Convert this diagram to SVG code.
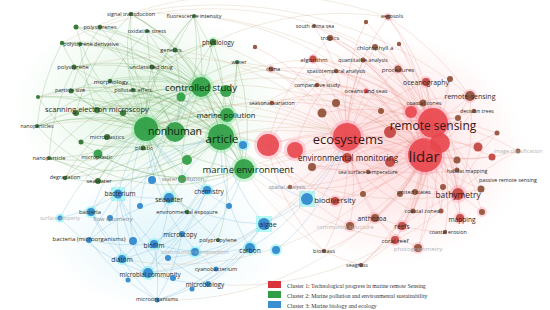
<svg xmlns="http://www.w3.org/2000/svg" width="550" height="310" viewBox="0 0 550 310">
<defs>
<radialGradient id="wr" cx="0.5" cy="0.5" r="0.5"><stop offset="0" stop-color="#ffb3b8" stop-opacity="0.5"/><stop offset="0.6" stop-color="#ffc4c8" stop-opacity="0.25"/><stop offset="1" stop-color="#ffc4c8" stop-opacity="0"/></radialGradient>
<radialGradient id="wg" cx="0.5" cy="0.5" r="0.5"><stop offset="0" stop-color="#9fe0a8" stop-opacity="0.35"/><stop offset="1" stop-color="#9fe0a8" stop-opacity="0"/></radialGradient>
<radialGradient id="wb" cx="0.5" cy="0.5" r="0.5"><stop offset="0" stop-color="#a8e2f0" stop-opacity="0.35"/><stop offset="1" stop-color="#a8e2f0" stop-opacity="0"/></radialGradient>
</defs>
<style>
text{font-family:"Open Sans","DejaVu Sans",sans-serif;text-anchor:middle;dominant-baseline:central;fill:#2a2a2a}
.f{fill:#b4b4b4}.m{fill:#858585}
.kr{fill:#3a1616}.kg{fill:#0f2a12}
.lg text{font-family:"Liberation Serif",serif;text-anchor:start;font-size:5.8px;fill:#333}
.gr{fill:#2f9e44;opacity:.92}.gd{fill:#3c7a3a}
.bl{fill:#3a8fd0}
.rb{fill:#e8464c;opacity:.9}.rm{fill:#c8504a}.rs{fill:#9a5b44}
.hg{fill:#7be38f;opacity:.35}.hb{fill:#62f0ee;opacity:.45}.hr{fill:#ff8fa3;opacity:.35}
.eg{fill:none;stroke:#5f9a4c;stroke-width:.6;opacity:.4}
.eb{fill:none;stroke:#6fb3d9;stroke-width:.6;opacity:.5}
.er{fill:none;stroke:#ea8f88;stroke-width:.6;opacity:.45}
.ex{fill:none;stroke:#c9a57a;stroke-width:.6;opacity:.4}
</style>
<rect width="550" height="310" fill="#ffffff"/>
<ellipse cx="390" cy="150" rx="135" ry="115" fill="url(#wr)"/>
<ellipse cx="150" cy="105" rx="140" ry="95" fill="url(#wg)"/>
<ellipse cx="165" cy="240" rx="120" ry="70" fill="url(#wb)"/>
<g id="connectors">
<path class="eg" d="M131 14A180 180 0 0 0 146 129M76 27A180 180 0 0 0 146 129M100 27A180 180 0 0 1 146 129M62 43A180 180 0 0 0 146 129M110 81A180 180 0 0 1 146 129M71 91A180 180 0 0 0 146 129M76 113A180 180 0 0 0 146 129M37 126A180 180 0 0 1 146 129M38 97A180 180 0 0 1 146 129M49 158A180 180 0 0 0 146 129M65 178A180 180 0 0 0 146 129M98 181A180 180 0 0 1 146 129M194 16A180 180 0 0 0 146 129M237 62A180 180 0 0 0 146 129M74 67A180 180 0 0 1 146 129M131 14A180 180 0 0 1 201 87M194 16A180 180 0 0 1 201 87M76 27A180 180 0 0 1 201 87M147 31A180 180 0 0 0 201 87M62 43A180 180 0 0 1 201 87M213 42A180 180 0 0 1 201 87M74 67A180 180 0 0 1 201 87M152 67A180 180 0 0 1 201 87M71 91A180 180 0 0 1 201 87M37 126A180 180 0 0 1 201 87M49 158A180 180 0 0 1 201 87M98 154A180 180 0 0 1 201 87M65 178A180 180 0 0 1 201 87M131 14A180 180 0 0 1 221 137M100 27A180 180 0 0 1 221 137M80 44A180 180 0 0 1 221 137M175 50A180 180 0 0 1 221 137M213 42A180 180 0 0 1 221 137M237 62A180 180 0 0 1 221 137M110 81A180 180 0 0 1 221 137M133 90A180 180 0 0 1 221 137M97 110A180 180 0 0 1 221 137M37 126A180 180 0 0 1 221 137M38 97A180 180 0 0 1 221 137M107 137A180 180 0 0 0 221 137M49 158A180 180 0 0 0 221 137M65 178A180 180 0 0 0 221 137M98 181A180 180 0 0 0 221 137M187 212A180 180 0 0 0 221 137M218 240A180 180 0 0 0 221 137M147 31A180 180 0 0 1 227 115M74 67A180 180 0 0 1 227 115M76 113A180 180 0 0 1 227 115M81 142A180 180 0 0 0 227 115M98 154A180 180 0 0 0 244 169M37 126A180 180 0 0 0 244 169M62 43A180 180 0 0 1 244 169M100 27A180 180 0 0 1 244 169M38 97A180 180 0 0 0 244 169M175 50A180 180 0 0 1 175 132M65 178A180 180 0 0 0 175 132M49 158A180 180 0 0 0 175 132M71 91A180 180 0 0 0 175 132M194 16A180 180 0 0 1 175 132M110 81A180 180 0 0 1 244 169M146 129A180 180 0 0 1 221 137M201 87A180 180 0 0 1 221 137M146 129A180 180 0 0 1 201 87M221 137A180 180 0 0 1 244 169M146 129A180 180 0 0 0 244 169M227 115A180 180 0 0 1 244 169M181 97A180 180 0 0 0 76 27M123 113A180 180 0 0 1 213 42M182 179A180 180 0 0 1 201 87M187 160A180 180 0 0 1 131 14M143 148A180 180 0 0 1 194 16M131 14A220 220 0 0 0 76 113M100 27A220 220 0 0 0 71 91M147 31A220 220 0 0 0 110 81M213 42A220 220 0 0 0 152 67M194 16A220 220 0 0 0 175 50M62 43A220 220 0 0 0 37 126M74 67A220 220 0 0 0 49 158M80 44A220 220 0 0 0 97 110M76 27A220 220 0 0 1 175 132M147 31A220 220 0 0 0 175 132M152 67A220 220 0 0 0 146 129M213 42A220 220 0 0 0 175 132M237 62A220 220 0 0 1 227 115M237 62A220 220 0 0 1 244 169M194 16A220 220 0 0 1 227 115M131 14A220 220 0 0 1 227 115M38 97A220 220 0 0 1 175 132M37 126A220 220 0 0 1 175 132M49 158A220 220 0 0 1 98 181M65 178A220 220 0 0 1 227 115M98 181A220 220 0 0 1 201 87M107 137A220 220 0 0 1 201 87M81 142A220 220 0 0 1 201 87M143 148A220 220 0 0 1 227 115M98 154A220 220 0 0 1 227 115M76 113A220 220 0 0 1 175 132M97 110A220 220 0 0 1 201 87M71 91A220 220 0 0 1 221 137M110 81A220 220 0 0 1 201 87M133 90A220 220 0 0 1 146 129M181 97A220 220 0 0 0 146 129M181 97A220 220 0 0 1 244 169M226 91A220 220 0 0 0 146 129M226 91A220 220 0 0 1 244 169M187 160A220 220 0 0 1 227 115M187 212A220 220 0 0 1 146 129M218 240A220 220 0 0 1 146 129M182 179A220 220 0 0 1 146 129M123 113A220 220 0 0 1 244 169M62 43A220 220 0 0 1 227 115"/>
<path class="eb" d="M157 300A200 200 0 0 1 122 259M157 300A200 200 0 0 0 154 244M157 300A200 200 0 0 0 216 269M157 300A200 200 0 0 0 182 234M157 300A200 200 0 0 1 89 240M157 300A200 200 0 0 0 250 248M148 273A200 200 0 0 1 91 212M148 273A200 200 0 0 1 118 194M148 273A200 200 0 0 0 169 198M148 273A200 200 0 0 0 207 190M148 273A200 200 0 0 0 264 224M148 273A200 200 0 0 1 60 218M122 259A200 200 0 0 1 118 194M122 259A200 200 0 0 0 169 198M122 259A200 200 0 0 0 182 234M122 259A200 200 0 0 1 91 212M154 244A200 200 0 0 1 118 194M154 244A200 200 0 0 0 207 190M154 244A200 200 0 0 0 250 248M154 244A200 200 0 0 1 89 240M154 244A200 200 0 0 0 221 137M118 194A200 200 0 0 1 221 137M118 194A200 200 0 0 1 146 129M118 194A200 200 0 0 0 169 198M118 194A200 200 0 0 1 60 218M91 212A200 200 0 0 1 146 129M91 212A200 200 0 0 1 221 137M89 240A200 200 0 0 1 118 194M89 240A200 200 0 0 1 169 198M169 198A200 200 0 0 1 221 137M169 198A200 200 0 0 1 146 129M169 198A200 200 0 0 0 264 224M207 190A200 200 0 0 1 146 129M207 190A200 200 0 0 0 244 169M264 224A200 200 0 0 0 347 137M264 224A200 200 0 0 1 221 137M264 224A200 200 0 0 0 307 199M250 248A200 200 0 0 0 307 199M250 248A200 200 0 0 1 221 137M216 269A200 200 0 0 1 182 234M216 269A200 200 0 0 0 264 224M208 284A200 200 0 0 1 154 244M208 284A200 200 0 0 0 250 248M208 284A200 200 0 0 1 148 273M182 234A200 200 0 0 1 146 129M182 234A200 200 0 0 0 244 169M195 252A200 200 0 0 0 244 169M307 199A200 200 0 0 1 221 137M307 199A200 200 0 0 0 347 137M60 218A200 200 0 0 1 146 129M110 218A200 200 0 0 1 221 137M140 206A200 200 0 0 1 201 87M133 241A200 200 0 0 1 146 129M168 258A200 200 0 0 0 264 224M173 278A200 200 0 0 1 118 194M128 280A200 200 0 0 0 207 190M192 289A200 200 0 0 0 264 224M229 206A200 200 0 0 1 146 129M152 180A200 200 0 0 1 201 87M276 250A200 200 0 0 0 347 137"/>
<path class="er" d="M388 17A200 200 0 0 1 433 123M388 17A200 200 0 0 0 347 137M388 17A200 200 0 0 1 425 155M366 22A200 200 0 0 0 347 137M314 26A200 200 0 0 1 433 123M314 26A200 200 0 0 1 347 137M330 38A200 200 0 0 1 425 155M330 38A200 200 0 0 0 268 145M375 47A200 200 0 0 1 433 123M375 47A200 200 0 0 0 347 137M399 44A200 200 0 0 1 425 155M313 59A200 200 0 0 1 433 123M313 59A200 200 0 0 1 347 137M313 59A200 200 0 0 1 425 155M363 60A200 200 0 0 1 425 155M363 60A200 200 0 0 0 347 137M336 71A200 200 0 0 1 433 123M336 71A200 200 0 0 0 295 150M398 69A200 200 0 0 1 425 155M398 69A200 200 0 0 0 347 137M398 69A200 200 0 0 1 458 194M317 85A200 200 0 0 1 433 123M317 85A200 200 0 0 0 268 145M426 82A200 200 0 0 1 425 155M426 82A200 200 0 0 0 347 137M426 82A200 200 0 0 1 458 194M450 79A200 200 0 0 1 425 155M366 91A200 200 0 0 1 425 155M366 91A200 200 0 0 0 347 158M470 96A200 200 0 0 1 425 155M470 96A200 200 0 0 0 347 137M470 96A200 200 0 0 1 458 194M272 103A200 200 0 0 1 347 137M272 103A200 200 0 0 1 433 123M336 103A200 200 0 0 1 425 155M322 113A200 200 0 0 1 433 123M423 103A200 200 0 0 1 425 155M411 112A200 200 0 0 0 347 137M474 111A200 200 0 0 1 425 155M474 111A200 200 0 0 0 347 158M497 133A200 200 0 0 1 425 155M497 133A200 200 0 0 0 347 137M518 151A200 200 0 0 0 433 123M518 151A200 200 0 0 1 425 155M492 157A200 200 0 0 0 347 137M457 170A200 200 0 0 0 433 123M457 170A200 200 0 0 1 347 158M368 172A200 200 0 0 0 433 123M368 172A200 200 0 0 1 268 145M481 189A200 200 0 0 0 433 123M481 189A200 200 0 0 1 425 155M400 194A200 200 0 0 0 433 123M400 194A200 200 0 0 1 347 137M415 192A200 200 0 0 0 458 194M363 194A200 200 0 0 0 425 155M335 201A200 200 0 0 0 433 123M335 201A200 200 0 0 1 268 145M458 194A200 200 0 0 0 433 123M458 194A200 200 0 0 1 347 137M458 194A200 200 0 0 1 425 155M290 187A200 200 0 0 0 347 137M290 187A200 200 0 0 0 425 155M413 211A200 200 0 0 0 433 123M413 211A200 200 0 0 1 347 158M441 211A200 200 0 0 0 425 155M482 212A200 200 0 0 0 458 194M482 212A200 200 0 0 0 433 123M375 218A200 200 0 0 0 425 155M375 218A200 200 0 0 1 347 137M375 218A200 200 0 0 1 402 226M402 226A200 200 0 0 0 433 123M402 226A200 200 0 0 1 458 194M460 218A200 200 0 0 0 425 155M460 218A200 200 0 0 0 433 123M350 226A200 200 0 0 0 425 155M350 226A200 200 0 0 1 268 145M445 232A200 200 0 0 0 433 123M445 232A200 200 0 0 1 402 226M395 240A200 200 0 0 0 425 155M395 240A200 200 0 0 1 347 137M395 240A200 200 0 0 0 458 194M418 248A200 200 0 0 0 425 155M418 248A200 200 0 0 1 375 218M324 251A200 200 0 0 0 347 137M324 251A200 200 0 0 1 268 145M361 265A200 200 0 0 0 425 155M361 265A200 200 0 0 1 324 251M361 265A200 200 0 0 0 395 240M271 69A200 200 0 0 1 347 137M271 69A200 200 0 0 1 425 155M255 47A200 200 0 0 1 347 137M347 137A200 200 0 0 1 433 123M347 137A200 200 0 0 0 425 155M268 145A200 200 0 0 1 425 155M268 145A200 200 0 0 1 347 137M295 150A200 200 0 0 1 433 123M347 158A200 200 0 0 0 425 155M390 132A200 200 0 0 0 425 155M390 162A200 200 0 0 1 433 123M312 167A200 200 0 0 0 433 123M443 187A200 200 0 0 0 347 137M457 160A200 200 0 0 0 347 137M478 147A200 200 0 0 0 347 158M458 118A200 200 0 0 0 347 158M381 111A200 200 0 0 1 458 194M388 17A300 300 0 0 1 470 96M330 38A300 300 0 0 1 458 194M366 22A200 200 0 0 1 425 155M314 26A200 200 0 0 1 425 155M330 38A200 200 0 0 1 433 123M375 47A200 200 0 0 1 425 155M399 44A200 200 0 0 1 433 123M363 60A200 200 0 0 1 433 123M336 71A200 200 0 0 1 425 155M398 69A200 200 0 0 1 433 123M317 85A200 200 0 0 1 425 155M426 82A200 200 0 0 1 433 123M366 91A200 200 0 0 1 433 123M450 79A200 200 0 0 1 433 123M470 96A200 200 0 0 1 433 123M474 111A200 200 0 0 1 433 123M423 103A200 200 0 0 0 347 137M336 103A200 200 0 0 0 347 137M322 113A200 200 0 0 0 347 158M368 172A200 200 0 0 0 425 155M457 170A200 200 0 0 0 425 155M481 189A200 200 0 0 0 458 194M400 194A200 200 0 0 0 425 155M415 192A200 200 0 0 0 425 155M413 211A200 200 0 0 0 425 155M441 211A200 200 0 0 0 433 123M375 218A200 200 0 0 0 433 123M402 226A200 200 0 0 0 425 155M460 218A200 200 0 0 0 458 194M395 240A200 200 0 0 0 433 123M418 248A200 200 0 0 0 433 123M350 226A200 200 0 0 0 347 137M324 251A200 200 0 0 0 425 155M361 265A200 200 0 0 0 433 123M492 157A200 200 0 0 1 425 155M518 151A200 200 0 0 0 458 194M497 133A200 200 0 0 0 458 194M290 187A200 200 0 0 0 433 123M272 103A200 200 0 0 1 425 155M271 69A200 200 0 0 1 433 123M312 167A200 200 0 0 0 425 155M335 201A200 200 0 0 0 425 155"/>
<path class="ex" d="M201 87A300 300 0 0 1 433 123M201 87A300 300 0 0 1 425 155M221 137A300 300 0 0 1 425 155M221 137A300 300 0 0 1 347 137M146 129A400 400 0 0 1 433 123M146 129A400 400 0 0 1 347 137M227 115A300 300 0 0 1 347 137M244 169A300 300 0 0 1 425 155M244 169A300 300 0 0 0 347 137M213 42A300 300 0 0 1 347 137M213 42A300 300 0 0 1 388 17M194 16A300 300 0 0 1 425 155M131 14A400 400 0 0 1 433 123M237 62A300 300 0 0 1 425 155M175 50A300 300 0 0 1 347 137M97 110A400 400 0 0 1 347 137M37 126A500 500 0 0 1 268 145M201 87A300 300 0 0 1 313 59M201 87A300 300 0 0 1 271 69M221 137A300 300 0 0 0 458 194M244 169A300 300 0 0 0 395 240M221 137A300 300 0 0 1 336 71M146 129A400 400 0 0 1 268 145M244 169A300 300 0 0 0 324 251M146 129A300 300 0 0 1 272 103M100 27A350 350 0 0 1 426 82M131 14A400 400 0 0 1 470 96M62 43A400 400 0 0 1 388 17M157 300A300 300 0 0 0 425 155M148 273A300 300 0 0 0 347 137M122 259A300 300 0 0 0 433 123M208 284A300 300 0 0 0 395 240M38 97A450 450 0 0 1 347 137M74 67A400 400 0 0 1 425 155"/>
</g>
<g id="nodes">
<g id="lidar"><circle class="hr" cx="425" cy="155" r="20"/><circle class="rb" cx="425" cy="155" r="17"/></g>
<g id="remote-sensing"><circle class="hr" cx="433" cy="123" r="18"/><circle class="rb" cx="433" cy="123" r="15"/></g>
<g id="n-red-1"><circle class="rb" cx="440" cy="143" r="10"/></g>
<g id="ecosystems"><circle class="hr" cx="347" cy="137" r="17"/><circle class="rb" cx="347" cy="137" r="14"/></g>
<g id="n-red-2"><circle class="hr" cx="268" cy="145" r="14"/><circle class="rb" cx="268" cy="145" r="11"/></g>
<g id="n-red-3"><circle class="hr" cx="295" cy="150" r="11"/><circle class="rb" cx="295" cy="150" r="8"/></g>
<g id="article"><circle class="hg" cx="221" cy="137" r="16"/><circle class="gr" cx="221" cy="137" r="13"/></g>
<g id="nonhuman-a"><circle class="hg" cx="146" cy="129" r="15"/><circle class="gr" cx="146" cy="129" r="12"/></g>
<g id="nonhuman"><circle class="gr" cx="175" cy="132" r="10"/></g>
<g id="controlled-study"><circle class="hg" cx="201" cy="87" r="13"/><circle class="gr" cx="201" cy="87" r="10"/></g>
<g id="marine-environment"><circle class="hg" cx="244" cy="169" r="13"/><circle class="gr" cx="244" cy="169" r="10"/></g>
<g id="marine-pollution"><circle class="hg" cx="227" cy="115" r="10"/><circle class="gr" cx="227" cy="115" r="7"/></g>
<g id="n-green-1"><circle class="gr" cx="226" cy="91" r="6"/></g>
<g id="n-green-2"><circle class="gr" cx="187" cy="160" r="5"/></g>
<g id="n-red-4"><circle class="rm" cx="390" cy="132" r="6"/></g>
<g id="n-red-5"><circle class="rm" cx="390" cy="162" r="5"/></g>
<g id="n-red-6"><circle class="hr" cx="411" cy="112" r="9"/><circle class="rb" cx="411" cy="112" r="6"/></g>
<g id="environmental-monitoring-n"><circle class="rm" cx="347" cy="158" r="5"/></g>
<g id="bathymetry-n"><circle class="hr" cx="458" cy="194" r="9"/><circle class="rm" cx="458" cy="194" r="6"/></g>
<g id="biodiversity-n"><rect class="hb" x="299" y="191" width="16" height="16"/><circle class="bl" cx="307" cy="199" r="6"/></g>
<g id="algae-n"><rect class="hb" x="256" y="216" width="16" height="16"/><circle class="bl" cx="264" cy="224" r="6"/></g>
<g id="signal-transduction"><circle class="gd" cx="131" cy="14" r="2.2"/><text x="131" y="14" font-size="5.4">signal transduction</text></g>
<g id="fluorescence-intensity"><circle class="gd" cx="194" cy="16" r="2"/><text x="194" y="16" font-size="5.4">fluorescence intensity</text></g>
<g id="polystyrenes"><circle class="gd" cx="76" cy="27" r="2.5"/><circle class="gd" cx="100" cy="27" r="2.2"/><text x="100" y="27" font-size="5.6">polystyrenes</text></g>
<g id="oxidative-stress"><circle class="gd" cx="147" cy="31" r="2"/><text x="147" y="31" font-size="5.3">oxidative stress</text></g>
<g id="polystyrene-derivative"><circle class="gd" cx="62" cy="43" r="2.2"/><circle class="gd" cx="80" cy="44" r="2"/><text x="91" y="44" font-size="5.4">polystyrene derivative</text></g>
<g id="physiology"><circle class="hg" cx="213" cy="42" r="5"/><circle class="gd" cx="213" cy="42" r="3.2"/><text x="218" y="42" font-size="6.5">physiology</text></g>
<g id="genetics"><circle class="gd" cx="175" cy="50" r="2.5"/><text x="171" y="50" font-size="5.6">genetics</text></g>
<g id="water"><circle class="gd" cx="237" cy="62" r="2"/><text x="239" y="62" font-size="5.6">water</text></g>
<g id="polystyrene"><circle class="gd" cx="74" cy="67" r="2.5"/><text x="73" y="67" font-size="5.8">polystyrene</text></g>
<g id="unclassified-drug"><circle class="gd" cx="152" cy="67" r="2.5"/><text x="151" y="67" font-size="5.5">unclassified drug</text></g>
<g id="morphology"><circle class="gd" cx="110" cy="81" r="2.2"/><text x="111" y="81" font-size="6.1">morphology</text></g>
<g id="particle-size"><circle class="gd" cx="71" cy="91" r="2.5"/><text x="70" y="90" font-size="5.5">particle size</text></g>
<g id="pollutant-effect"><circle class="gd" cx="133" cy="90" r="2.2"/><text x="133" y="90" font-size="5.3">pollutant effect</text></g>
<g id="n-green-3"><circle class="gr" cx="181" cy="97" r="4.5"/></g>
<g id="n-green-4"><circle class="gd" cx="38" cy="97" r="2"/></g>
<g id="n-green-5"><circle class="gd" cx="123" cy="113" r="3"/></g>
<g id="scanning-electron-microscopy"><circle class="gd" cx="76" cy="113" r="3"/><circle class="gd" cx="97" cy="110" r="3"/><text x="97" y="109" font-size="7.5">scanning electron microscopy</text></g>
<g id="nanoparticles"><circle class="gd" cx="37" cy="126" r="2"/><text x="37" y="126" font-size="5.2">nanoparticles</text></g>
<g id="microplastics"><circle class="gd" cx="81" cy="142" r="2.5"/><circle class="gd" cx="107" cy="137" r="3"/><text x="107" y="137" font-size="5.6">microplastics</text></g>
<g id="plastic"><circle class="gd" cx="143" cy="148" r="2.5"/><text x="144" y="148" font-size="6">plastic</text></g>
<g id="nanoparticle"><circle class="gd" cx="49" cy="158" r="2"/><text x="49" y="158" font-size="5.6">nanoparticle</text></g>
<g id="microplastic"><circle class="gr" cx="98" cy="154" r="4.5"/><text x="97" y="157" font-size="5.6">microplastic</text></g>
<g id="degradation"><circle class="gd" cx="65" cy="178" r="2.2"/><text x="65" y="177" font-size="5.4">degradation</text></g>
<g id="seawater-green"><circle class="gd" cx="98" cy="181" r="3"/><text x="99" y="181" font-size="6">seawater</text></g>
<g id="water-pollution"><circle class="bl" cx="152" cy="180" r="4"/><circle class="gr" cx="182" cy="179" r="4"/><text class="m" x="183" y="179" font-size="6">water pollution</text></g>
<g id="environmental-exposure"><circle class="gd" cx="187" cy="212" r="2.2"/><text x="187" y="212" font-size="5.4">environmental exposure</text></g>
<g id="polypropylene"><circle class="gd" cx="218" cy="240" r="2"/><text x="218" y="240" font-size="5.6">polypropylene</text></g>
<g id="chemistry"><circle class="hb" cx="207" cy="190" r="6"/><circle class="bl" cx="207" cy="190" r="4"/><text x="209" y="191" font-size="6.5">chemistry</text></g>
<g id="seawater-blue"><circle class="hb" cx="169" cy="198" r="7"/><circle class="bl" cx="169" cy="198" r="5"/><text x="169" y="199" font-size="6.5">seawater</text></g>
<g id="bacterium"><rect class="hb" x="111" y="187" width="14" height="14"/><circle class="bl" cx="118" cy="194" r="4.5"/><text x="120" y="193" font-size="6.5">bacterium</text></g>
<g id="n-blue-1"><circle class="bl" cx="140" cy="206" r="3"/></g>
<g id="n-blue-2"><circle class="bl" cx="229" cy="206" r="3"/></g>
<g id="n-blue-3"><circle class="hb" cx="243" cy="145" r="6"/><circle class="bl" cx="243" cy="145" r="4"/></g>
<g id="n-blue-4"><circle class="hb" cx="276" cy="250" r="6"/><circle class="bl" cx="276" cy="250" r="4"/></g>
<g id="bacteria"><circle class="hb" cx="91" cy="212" r="6"/><circle class="bl" cx="91" cy="212" r="4"/><text x="90" y="212" font-size="5.8">bacteria</text></g>
<g id="surface-property"><circle class="hb" cx="60" cy="218" r="4.5"/><circle class="bl" cx="60" cy="218" r="2.5"/><text class="f" x="60" y="218" font-size="5.2">surface property</text></g>
<g id="flow-cytometry"><circle class="bl" cx="110" cy="218" r="3"/><text class="m" x="113" y="219" font-size="5.7">flow cytometry</text></g>
<g id="bacteria-microorganisms"><circle class="bl" cx="89" cy="240" r="3"/><text x="89" y="239" font-size="6">bacteria (microorganisms)</text></g>
<g id="microscopy"><circle class="bl" cx="182" cy="234" r="3"/><text x="180" y="234" font-size="6.3">microscopy</text></g>
<g id="n-blue-5"><circle class="bl" cx="133" cy="241" r="4"/></g>
<g id="biofilm"><circle class="hb" cx="154" cy="244" r="6"/><circle class="bl" cx="154" cy="244" r="4"/><text x="154" y="245" font-size="6.5">biofilm</text></g>
<g id="community-composition"><circle class="hb" cx="195" cy="252" r="6"/><circle class="bl" cx="195" cy="252" r="4"/><text class="f" x="195" y="252" font-size="6">community composition</text></g>
<g id="n-blue-6"><circle class="bl" cx="168" cy="258" r="3"/></g>
<g id="diatom"><circle class="hb" cx="122" cy="259" r="6"/><circle class="bl" cx="122" cy="259" r="4"/><text x="122" y="259" font-size="6.5">diatom</text></g>
<g id="carbon"><circle class="hb" cx="250" cy="248" r="7"/><circle class="bl" cx="250" cy="248" r="5"/><text x="250" y="250" font-size="6.5">carbon</text></g>
<g id="microbial-community"><circle class="hb" cx="148" cy="273" r="7"/><circle class="bl" cx="148" cy="273" r="5"/><text x="150" y="274" font-size="6.2">microbial community</text></g>
<g id="cyanobacterium"><circle class="bl" cx="216" cy="269" r="2.5"/><text x="216" y="269" font-size="5.7">cyanobacterium</text></g>
<g id="n-blue-7"><circle class="bl" cx="173" cy="278" r="3"/></g>
<g id="n-blue-8"><circle class="bl" cx="128" cy="280" r="2.5"/></g>
<g id="microbiology"><circle class="bl" cx="208" cy="284" r="3"/><text x="205" y="284" font-size="6.4">microbiology</text></g>
<g id="n-blue-9"><circle class="bl" cx="192" cy="289" r="2.5"/></g>
<g id="microorganisms"><circle class="bl" cx="157" cy="300" r="2.5"/><text x="157" y="299" font-size="5.6">microorganisms</text></g>
<g id="aerosols"><circle class="hr" cx="388" cy="17" r="4"/><circle class="rs" cx="388" cy="17" r="2.5"/><text x="392" y="16" font-size="5.7">aerosols</text></g>
<g id="n-red-7"><circle class="rs" cx="366" cy="22" r="2.2"/></g>
<g id="south-china-sea"><circle class="rs" cx="314" cy="26" r="2"/><text x="315" y="26" font-size="5.3">south china sea</text></g>
<g id="tropics"><circle class="rs" cx="330" cy="38" r="3"/><text x="330" y="38" font-size="5.8">tropics</text></g>
<g id="chlorophyll-a"><circle class="rs" cx="375" cy="47" r="3"/><circle class="rs" cx="399" cy="44" r="2.2"/><text x="375" y="47" font-size="6.1">chlorophyll a</text></g>
<g id="algorithm"><circle class="hr" cx="313" cy="59" r="5"/><circle class="rm" cx="313" cy="59" r="3.5"/><text x="314" y="59" font-size="6.1">algorithm</text></g>
<g id="quantitative-analysis"><circle class="rs" cx="363" cy="60" r="2.5"/><text x="363" y="60" font-size="5.2">quantitative analysis</text></g>
<g id="spatiotemporal-analysis"><circle class="rs" cx="336" cy="71" r="2.2"/><text x="336" y="71" font-size="5.3">spatiotemporal analysis</text></g>
<g id="procedures"><circle class="hr" cx="398" cy="69" r="5"/><circle class="rs" cx="398" cy="69" r="3.5"/><text x="398" y="69" font-size="6.1">procedures</text></g>
<g id="comparative-study"><circle class="rs" cx="317" cy="85" r="2.2"/><text x="317" y="85" font-size="5.3">comparative study</text></g>
<g id="oceanography"><circle class="hr" cx="426" cy="82" r="6"/><circle class="rm" cx="426" cy="82" r="4"/><circle class="rs" cx="450" cy="79" r="3"/><text x="426" y="82" font-size="6.9">oceanography</text></g>
<g id="oceans-and-seas"><circle class="rb" cx="366" cy="91" r="2.5"/><text x="366" y="91" font-size="5.6">oceans and seas</text></g>
<g id="remote-sensing-hyphen"><circle class="hr" cx="470" cy="96" r="7"/><circle class="rs" cx="470" cy="96" r="5"/><text x="470" y="96" font-size="7">remote-sensing</text></g>
<g id="seasonal-variation"><circle class="rs" cx="272" cy="103" r="2.2"/><text x="272" y="103" font-size="5.4">seasonal variation</text></g>
<g id="n-red-8"><circle class="rs" cx="336" cy="103" r="4"/></g>
<g id="n-red-9"><circle class="rs" cx="322" cy="113" r="4.5"/></g>
<g id="coastal-zones"><circle class="rs" cx="423" cy="103" r="3.5"/><text x="424" y="103" font-size="5.6">coastal zones</text></g>
<g id="n-red-10"><circle class="rs" cx="381" cy="111" r="3"/></g>
<g id="decision-trees"><circle class="rs" cx="474" cy="111" r="2.2"/><text x="477" y="111" font-size="5.2">decision trees</text></g>
<g id="n-red-11"><circle class="rs" cx="458" cy="118" r="3"/></g>
<g id="n-red-12"><circle class="rs" cx="497" cy="133" r="2.5"/></g>
<g id="n-red-13"><circle class="rm" cx="478" cy="147" r="4.5"/></g>
<g id="image-classification"><circle class="rs" cx="518" cy="151" r="2.5"/><text class="f" x="518" y="151" font-size="5.4">image classification</text></g>
<g id="n-red-14"><circle class="rm" cx="492" cy="157" r="3.5"/></g>
<g id="n-red-15"><circle class="rs" cx="457" cy="160" r="3.5"/></g>
<g id="habitat-mapping"><circle class="rs" cx="457" cy="170" r="2.5"/><text x="467" y="171" font-size="5.3">habitat mapping</text></g>
<g id="sea-surface-temperature"><circle class="rs" cx="368" cy="172" r="2.2"/><text x="368" y="172" font-size="5.2">sea surface temperature</text></g>
<g id="n-red-16"><circle class="rs" cx="312" cy="167" r="4"/></g>
<g id="passive-remote-sensing"><circle class="rs" cx="481" cy="189" r="3.5"/><text x="508" y="180" font-size="5.3">passive remote sensing</text></g>
<g id="united-states"><circle class="rs" cx="400" cy="194" r="3"/><circle class="rs" cx="415" cy="192" r="3"/><text x="414" y="192" font-size="5.5">united states</text></g>
<g id="n-red-17"><circle class="rs" cx="363" cy="194" r="3"/></g>
<g id="n-red-18"><circle class="hr" cx="335" cy="201" r="6"/><circle class="rm" cx="335" cy="201" r="4"/></g>
<g id="n-red-19"><circle class="rs" cx="443" cy="187" r="3"/></g>
<g id="spatial-analysis"><circle class="rs" cx="290" cy="187" r="2.2"/><text class="m" x="287" y="187" font-size="5.2">spatial analysis</text></g>
<g id="coastal-zones-2"><circle class="rs" cx="413" cy="211" r="2.5"/><circle class="rs" cx="441" cy="211" r="2.5"/><text x="422" y="211" font-size="5.6">coastal zones</text></g>
<g id="n-red-20"><circle class="hr" cx="482" cy="212" r="5"/><circle class="rs" cx="482" cy="212" r="3"/></g>
<g id="anthozoa"><circle class="hr" cx="375" cy="218" r="6"/><circle class="rs" cx="375" cy="218" r="4"/><text x="372" y="218" font-size="6.6">anthozoa</text></g>
<g id="reefs"><circle class="hr" cx="402" cy="226" r="6"/><circle class="rm" cx="402" cy="226" r="4"/><text x="402" y="226" font-size="6.6">reefs</text></g>
<g id="mapping"><circle class="hr" cx="460" cy="218" r="6"/><circle class="rm" cx="460" cy="218" r="4"/><text x="462" y="219" font-size="6.6">mapping</text></g>
<g id="community-structure"><circle class="hr" cx="350" cy="226" r="6"/><circle class="rs" cx="350" cy="226" r="4"/><text class="f" x="345" y="227" font-size="5.8">community structure</text></g>
<g id="coastal-erosion"><circle class="rs" cx="445" cy="232" r="2.2"/><text x="448" y="232" font-size="5.3">coastal erosion</text></g>
<g id="coral-reef"><circle class="hr" cx="395" cy="240" r="6"/><circle class="rm" cx="395" cy="240" r="4"/><text x="395" y="240" font-size="6.1">coral reef</text></g>
<g id="photogrammetry"><circle class="hr" cx="418" cy="248" r="6"/><circle class="rs" cx="418" cy="248" r="4"/><text class="f" x="418" y="248" font-size="6.1">photogrammetry</text></g>
<g id="biomass"><circle class="rs" cx="324" cy="251" r="2.2"/><text x="324" y="251" font-size="5.6">biomass</text></g>
<g id="seagrass"><circle class="rs" cx="361" cy="265" r="2.2"/><text x="357" y="265" font-size="5.4">seagrass</text></g>
<g id="china"><circle class="hr" cx="271" cy="69" r="4"/><circle class="rs" cx="271" cy="69" r="2.5"/><text x="273" y="69" font-size="5.6">china</text></g>
<g id="n-red-21"><circle class="rs" cx="255" cy="47" r="2.2"/></g>
<g id="big-labels">
<text class="kg" x="201" y="87" font-size="9.5">controlled study</text>
<text class="kg" x="226" y="115" font-size="7.6">marine pollution</text>
<text class="kg" x="175" y="131" font-size="10.5">nonhuman</text>
<text class="kg" x="222" y="138" font-size="11.5">article</text>
<text class="kg" x="248" y="169" font-size="9.5">marine environment</text>
<text x="268" y="224" font-size="7">algae</text>
<text x="335" y="200" font-size="7.7">biodiversity</text>
<text class="kr" x="348" y="139" font-size="13">ecosystems</text>
<text class="kr" x="348" y="157" font-size="8.2">environmental monitoring</text>
<text class="kr" x="433" y="125" font-size="12">remote sensing</text>
<text class="kr" x="424" y="156" font-size="15">lidar</text>
<text class="kr" x="458" y="194" font-size="8.4">bathymetry</text>
</g>
</g>
<g id="legend" class="lg">
<rect x="268" y="281" width="13" height="7" fill="#d8363c"/>
<rect x="268" y="291" width="13" height="7" fill="#2f9e44"/>
<rect x="268" y="301" width="13" height="7" fill="#3a8fd0"/>
<text x="287" y="286">Cluster 1: Technological progress in marine remote Sensing</text>
<text x="287" y="296">Cluster 2: Marine pollution and environmental sustainability</text>
<text x="287" y="306">Cluster 3: Marine biology and ecology</text>
</g>
</svg>
